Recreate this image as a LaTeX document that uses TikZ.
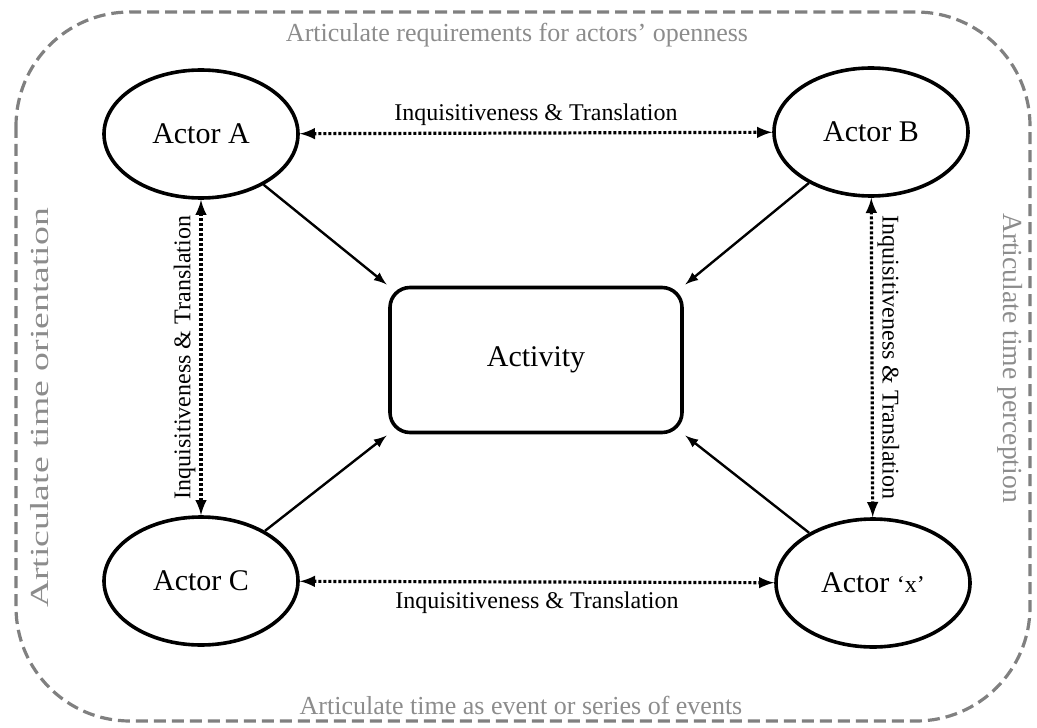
\documentclass[tikz,border=0pt]{standalone}
\usepackage{fontspec}
\setmainfont{Liberation Serif}
\usepackage{tikz}
\usetikzlibrary{arrows,shapes}
\usetikzlibrary{positioning}
\usetikzlibrary{calc}
\definecolor{framegray}{RGB}{128,128,128}
\definecolor{sidegray}{RGB}{140,140,140}

\begin{document}
\begin{tikzpicture}[x=0.5pt,y=-0.5pt,>=latex,
  actor/.style={ellipse,draw,line width=1.8pt,minimum width=97pt,minimum height=64pt,inner sep=0pt,font=\fontsize{15}{18}\selectfont},
  activity/.style={rectangle,draw,line width=1.8pt,rounded corners=10pt,minimum width=146pt,minimum height=72.5pt,font=\fontsize{15}{18}\selectfont},
  link/.style={->,line width=1.2pt,shorten >=1pt},
  talk/.style={<->,line width=1.6pt,dash pattern=on 1.5pt off 1pt},
  side/.style={text=sidegray,font=\fontsize{13}{15}\selectfont,inner sep=0pt},
  tlabel/.style={font=\fontsize{12}{14}\selectfont,inner sep=2pt}]
\useasboundingbox (0,0) rectangle (1037,727);
% outer frame
\draw[framegray,line width=1.6pt,dash pattern=on 6pt off 3pt,rounded corners=57pt] (16,12) rectangle (1030,721);

\node [actor] (a) at (201,134) {Actor A};
\node [actor] (b) at (871,132) {Actor B};
\node [actor] (c) at (201,581) {Actor C};
\node [actor] (x) at (873,583) {Actor {\fontsize{12}{14}\selectfont `x'}};
\node [activity] (act) at (536,360) {Activity};

\draw [link] (a) -- (act.north west);
\draw [link] (b) -- (act.north east);
\draw [link] (c) -- (act.south west);
\draw [link] (x) -- (act.south east);

\draw [talk] (a) -- (b) node[tlabel,midway,above=1pt] {Inquisitiveness \& Translation};
\draw [talk] (c) -- (x) node[tlabel,midway,below=2pt] {Inquisitiveness \& Translation};
\draw [talk] (a) -- (c) node[tlabel,midway,rotate=90,anchor=south] {Inquisitiveness \& Translation};
\draw [talk] (b) -- (x) node[tlabel,midway,rotate=-90,anchor=south] {Inquisitiveness \& Translation};

\node [side] (top) at (517,35) {Articulate requirements for actors’ openness};
\node [side] (bottom) at (521,705) {Articulate time as event or series of events};
\node [side,rotate=90] (left) at (40,408) {\scalebox{1.45}[1]{Articulate time orientation}};
\node [side,rotate=-90,font=\fontsize{13.8}{16}\selectfont] (right) at (1010,358) {Articulate time perception};
\end{tikzpicture}
\end{document}
